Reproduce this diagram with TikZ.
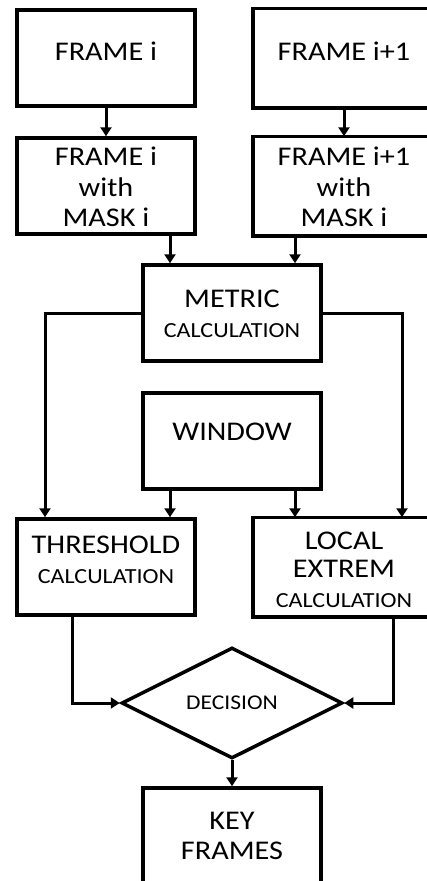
\documentclass[tikz,border=0pt]{standalone}
\usepackage{fontspec}
\setmainfont[FakeStretch=1.12]{Carlito}
\usetikzlibrary{arrows.meta,shapes.geometric}
\begin{document}
\begin{tikzpicture}[x=1pt,y=-1pt,
  frame/.style={line width=3.5pt},
  box/.style={frame,draw,minimum width=178pt,minimum height=96pt,inner sep=0pt},
  rbox/.style={box,draw=none,minimum width=200pt},
  lbl/.style={inner sep=0pt,align=center,font=\fontsize{27}{30.5}\selectfont},
  dia/.style={frame,draw,diamond,minimum width=221pt,minimum height=111pt,inner sep=0pt,font=\fontsize{21}{24}\selectfont},
  conn/.style={line width=3pt,-{Triangle[width=11pt,length=9pt]}}]
\useasboundingbox (0,0) rectangle (426,881);
\newcommand{\smallcalc}{{\fontsize{21.5}{24}\selectfont CALCULATION}}
% boxes
\node[box] (f1) at (106,58) {};
\node[rbox] (f2) at (354.75,58) {};
\node[box] (m1) at (106,186) {};
\node[rbox] (m2) at (354.75,186) {};
\node[box] (met) at (232,313) {};
\node[box] (win) at (232,441) {};
\node[box] (thr) at (106,567) {};
\node[rbox] (loc) at (354.75,567) {};
\node[dia] (dec) at (232,703) {DECISION};
\node[box] (key) at (232,836) {};
% right boxes run off the page: draw three sides
\foreach \b in {f2,m2,loc}
  \draw[frame,line join=miter] (\b.north east) -- (\b.north west) -- (\b.south west) -- (\b.south east);
% texts
\node[lbl] (f1t) at (106,51) {FRAME i};
\node[lbl] (f2t) at (344,51) {FRAME i+1};
\node[lbl] (m1t) at (106,187) {FRAME i\\with\\MASK i};
\node[lbl] (m2t) at (344,187) {FRAME i+1\\with\\MASK i};
\node[lbl] (mett) at (232,314) {METRIC\\\smallcalc};
\node[lbl] (wint) at (232,432) {WINDOW};
\node[lbl] (thrt) at (106,560) {THRESHOLD\\\smallcalc};
\node[lbl] (loct) at (344,570) {LOCAL\\[-2.5pt]EXTREM\\\smallcalc};
\node[lbl] (keyt) at (232,836) {KEY\\FRAMES};
% connectors
\draw[conn] (f1) -- (m1);
\draw[conn] (f2.south -| 344,0) -- (m2.north -| 344,0);
\draw[conn] (m1.south -| 170,0) -- (met.north -| 170,0);
\draw[conn] (m2.south -| 295,0) -- (met.north -| 295,0);
\draw[conn] (met.west) -| (thr.north -| 45,0);
\draw[conn] (met.east) -| (loc.north -| 402,0);
\draw[conn] (win.south -| 170,0) -- (thr.north -| 170,0);
\draw[conn] (win.south -| 295,0) -- (loc.north -| 295,0);
\draw[conn] (thr.south -| 72,0) |- (dec.west);
\draw[conn] (loc.south -| 393,0) |- (dec.east);
\draw[conn] (dec) -- (key);
\end{tikzpicture}
\end{document}
